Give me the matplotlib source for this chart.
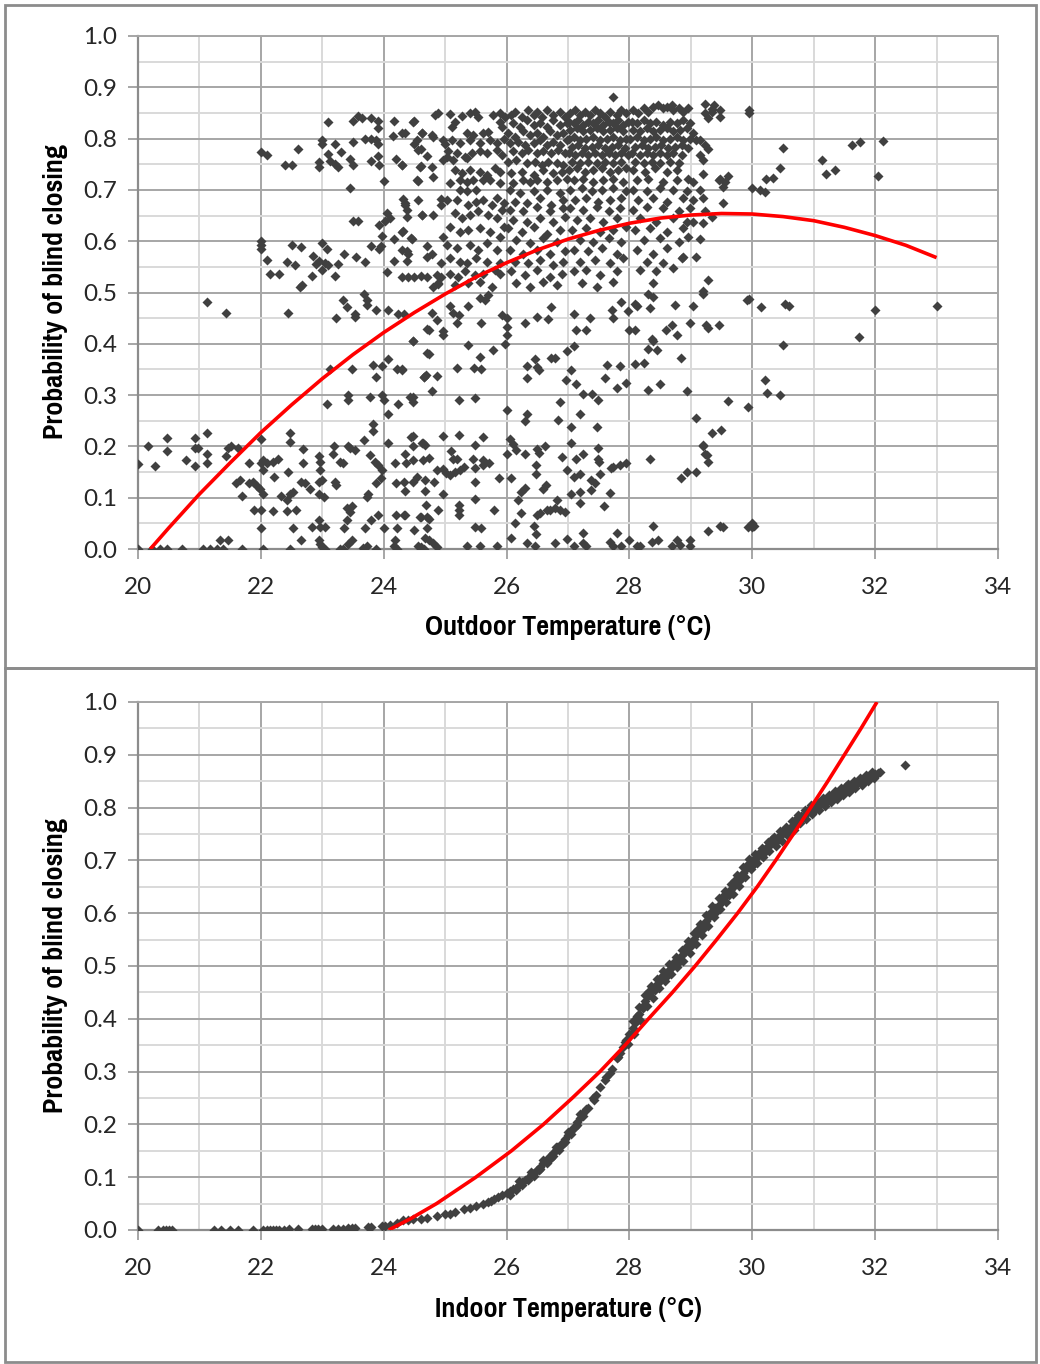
import numpy as np
import matplotlib
matplotlib.use("Agg")
import matplotlib.pyplot as plt
from matplotlib import font_manager as fm
from matplotlib.patches import Rectangle
from matplotlib.ticker import MultipleLocator, FormatStrFormatter

# ---------------- Outdoor temperature panel: observed points (temp, probability) ----------------
outdoor_bottom_row = [
    (20.0, 0.0), (20.22, 0.0), (20.36, 0.0), (20.47, 0.0), (20.71, 0.0), (21.05, 0.0), (21.17, 0.0),
    (21.28, 0.0), (21.33, 0.017), (21.39, 0.0), (21.47, 0.017), (21.69, 0.0), (22.04, 0.0), (22.47, 0.0),
    (22.65, 0.017), (22.94, 0.017), (22.97, 0.009), (23.0, 0.004), (23.04, 0.0), (23.29, 0.0), (23.34, 0.0),
    (23.42, 0.009), (23.48, 0.017), (23.67, 0.002), (23.72, 0.005), (23.88, 0.0), (24.16, 0.005),
    (24.18, 0.017), (24.21, 0.0), (24.55, 0.005), (24.65, 0.0),
    (22.0, 0.04), (22.53, 0.04), (22.84, 0.043), (22.97, 0.043), (23.04, 0.043), (22.94, 0.056),
    (23.4, 0.056), (23.35, 0.04), (23.7, 0.04), (23.8, 0.056), (24.0, 0.04), (24.21, 0.04), (24.7, 0.04),
    (23.9, 0.066), (24.2, 0.066), (24.33, 0.066), (24.6, 0.063), (24.7, 0.063),
    (24.5, 0.037), (24.67, 0.021), (24.74, 0.018), (24.8, 0.011), (24.86, 0.004), (24.6, 0.004),
    (25.35, 0.005), (25.49, 0.043), (25.58, 0.04), (25.57, 0.005), (25.84, 0.005), (26.08, 0.021),
    (26.33, 0.011), (26.46, 0.005), (26.44, 0.045), (26.48, 0.03), (26.79, 0.011), (26.98, 0.02),
    (27.09, 0.005), (27.24, 0.031), (27.25, 0.011), (27.29, 0.005), (27.68, 0.014), (27.74, 0.005),
    (27.87, 0.005), (27.79, 0.032), (28.0, 0.018), (28.12, 0.005), (28.18, 0.005), (28.39, 0.045),
    (28.36, 0.014), (28.47, 0.017), (28.69, 0.005), (28.77, 0.017), (28.82, 0.008), (28.99, 0.017),
    (28.99, 0.006), (29.28, 0.035), (29.47, 0.045), (29.53, 0.043), (29.93, 0.043), (30.0, 0.05),
    (30.0, 0.042), (30.03, 0.045),
]

outdoor_low_band = [
    (20.17, 0.2), (20.47, 0.216), (20.47, 0.192), (20.78, 0.173), (20.93, 0.216), (20.93, 0.196),
    (20.98, 0.196), (20.93, 0.162), (21.13, 0.227), (21.13, 0.185), (21.13, 0.167), (21.47, 0.196),
    (21.52, 0.2), (21.44, 0.182), (21.63, 0.196), (20.0, 0.165), (20.28, 0.162),
    (21.8, 0.168), (22.0, 0.214), (22.0, 0.168), (22.04, 0.173), (22.04, 0.154), (22.1, 0.168),
    (22.19, 0.17), (22.28, 0.175), (22.47, 0.227), (22.47, 0.208), (22.68, 0.194), (22.68, 0.167),
    (22.44, 0.151), (22.94, 0.182), (22.97, 0.17), (22.97, 0.154), (23.19, 0.2), (23.18, 0.185),
    (23.29, 0.17), (23.34, 0.167), (23.42, 0.2), (23.45, 0.196), (23.53, 0.193), (23.68, 0.212),
    (23.77, 0.183), (23.86, 0.17), (23.91, 0.164), (23.97, 0.154), (24.07, 0.206), (24.18, 0.168),
    (24.37, 0.168), (24.64, 0.206), (24.64, 0.173), (23.83, 0.244), (23.83, 0.23), (24.45, 0.219),
    (24.48, 0.2),
    (21.66, 0.134), (21.6, 0.128), (21.69, 0.103), (21.8, 0.128), (21.87, 0.131), (21.93, 0.123),
    (21.99, 0.116), (22.04, 0.108), (22.22, 0.141), (22.32, 0.103), (22.42, 0.095), (22.47, 0.108),
    (22.53, 0.112), (22.65, 0.131), (22.72, 0.128), (22.8, 0.116), (22.94, 0.13), (22.94, 0.108),
    (23.0, 0.134), (23.2, 0.131), (23.22, 0.125), (23.02, 0.102), (21.89, 0.076), (22.0, 0.076),
    (22.19, 0.074), (22.42, 0.074), (22.57, 0.076), (23.4, 0.08), (23.48, 0.083), (23.45, 0.073),
    (23.75, 0.108), (23.72, 0.102), (23.88, 0.128), (23.96, 0.138), (24.2, 0.128), (24.33, 0.131),
    (24.54, 0.141), (24.68, 0.134), (24.34, 0.114), (24.68, 0.114),
    (24.48, 0.22), (24.35, 0.186), (24.48, 0.173), (24.62, 0.206), (24.67, 0.203), (24.73, 0.178),
    (24.97, 0.22), (25.23, 0.222), (25.09, 0.192), (25.12, 0.175), (25.19, 0.175), (24.86, 0.154),
    (24.97, 0.155), (25.02, 0.148), (25.08, 0.144), (25.16, 0.15), (25.24, 0.154), (25.3, 0.16),
    (25.45, 0.175), (25.49, 0.203), (25.61, 0.219), (25.62, 0.173), (25.72, 0.167), (25.49, 0.157),
    (25.61, 0.163), (25.88, 0.139), (26.0, 0.186), (26.06, 0.214), (26.11, 0.205), (26.16, 0.193),
    (26.3, 0.186), (26.08, 0.138), (26.49, 0.194), (26.53, 0.188), (26.63, 0.2), (26.48, 0.164),
    (26.48, 0.146), (26.91, 0.18), (26.99, 0.154), (27.09, 0.14), (27.2, 0.146), (27.13, 0.175),
    (27.24, 0.186), (27.49, 0.197), (27.49, 0.175), (27.51, 0.17), (27.52, 0.146), (27.38, 0.135),
    (27.7, 0.157), (27.74, 0.159), (27.84, 0.163), (27.95, 0.168), (28.33, 0.175), (28.84, 0.138),
    (28.94, 0.151), (29.08, 0.151), (29.23, 0.186), (29.28, 0.17), (29.2, 0.2),
    (24.48, 0.131), (24.82, 0.131), (24.97, 0.108), (25.49, 0.131), (24.34, 0.066), (24.59, 0.063),
    (24.73, 0.058), (24.69, 0.086), (24.88, 0.076), (25.23, 0.086), (25.23, 0.076), (25.23, 0.066),
    (25.49, 0.097), (25.8, 0.076), (26.19, 0.095), (26.24, 0.112), (26.3, 0.118), (26.6, 0.116),
    (26.64, 0.125), (26.23, 0.07), (26.14, 0.051), (26.49, 0.066), (26.54, 0.071), (26.65, 0.076),
    (26.71, 0.076), (26.79, 0.079), (26.87, 0.076), (26.95, 0.073), (26.82, 0.095), (27.05, 0.108),
    (27.2, 0.112), (27.2, 0.089), (27.38, 0.115), (27.44, 0.128), (27.59, 0.084), (27.68, 0.11),
    (27.05, 0.238), (27.05, 0.206), (27.48, 0.238), (29.34, 0.227), (29.49, 0.232), (29.19, 0.203),
    (29.26, 0.183),
]

outdoor_mid_band = [
    (21.13, 0.481), (21.43, 0.46), (22.64, 0.511), (22.44, 0.46), (23.22, 0.45), (23.33, 0.485),
    (23.4, 0.472), (23.54, 0.459), (23.54, 0.453), (23.68, 0.498), (23.72, 0.485), (23.72, 0.476),
    (23.88, 0.466), (24.07, 0.466), (24.23, 0.459), (24.33, 0.459), (24.48, 0.405), (24.71, 0.428),
    (24.71, 0.383), (24.65, 0.336), (23.13, 0.35), (23.48, 0.35), (23.83, 0.358), (23.97, 0.357),
    (23.88, 0.336), (24.07, 0.37), (24.21, 0.35), (24.29, 0.35), (23.07, 0.283), (23.42, 0.3),
    (23.42, 0.29), (23.78, 0.297), (23.97, 0.3), (24.0, 0.29), (24.07, 0.264), (24.23, 0.283),
    (24.43, 0.296), (24.48, 0.287),
    (24.88, 0.517), (24.78, 0.461), (24.87, 0.446), (24.73, 0.427), (24.97, 0.424), (24.97, 0.418),
    (24.47, 0.405), (25.08, 0.474), (25.12, 0.46), (25.23, 0.456), (25.19, 0.44), (25.38, 0.474),
    (25.57, 0.49), (25.65, 0.485), (25.7, 0.495), (25.58, 0.441), (25.92, 0.456), (26.0, 0.45),
    (26.0, 0.433), (26.0, 0.417), (25.97, 0.4), (26.3, 0.44), (26.49, 0.453), (26.68, 0.448),
    (26.73, 0.472), (27.09, 0.459), (27.13, 0.427), (27.29, 0.427), (27.36, 0.45), (27.71, 0.466),
    (27.74, 0.45), (27.87, 0.482), (27.98, 0.463), (28.0, 0.426), (28.09, 0.426), (28.09, 0.478),
    (28.13, 0.474), (28.33, 0.469), (28.3, 0.498), (28.39, 0.492), (28.36, 0.41), (28.39, 0.405),
    (28.6, 0.426), (28.69, 0.437), (28.77, 0.417), (28.74, 0.476), (29.03, 0.474), (28.99, 0.44),
    (29.2, 0.498), (29.24, 0.437), (29.28, 0.43), (29.45, 0.437), (29.92, 0.485),
    (24.29, 0.348), (24.48, 0.297), (24.65, 0.336), (24.69, 0.34), (24.87, 0.337), (24.79, 0.308),
    (24.73, 0.381), (25.23, 0.29), (25.49, 0.294), (25.19, 0.352), (25.47, 0.352), (25.58, 0.35),
    (25.57, 0.374), (25.38, 0.398), (25.78, 0.387), (26.0, 0.27), (26.3, 0.25), (26.34, 0.263),
    (26.33, 0.333), (26.34, 0.357), (26.46, 0.37), (26.49, 0.354), (26.53, 0.348), (26.73, 0.372),
    (26.79, 0.373), (26.87, 0.287), (26.84, 0.251), (26.97, 0.33), (26.98, 0.385), (27.09, 0.396),
    (27.05, 0.349), (27.13, 0.322), (27.24, 0.303), (27.39, 0.303), (27.49, 0.29), (27.2, 0.264),
    (27.63, 0.358), (27.6, 0.333), (27.8, 0.313), (27.85, 0.357), (27.95, 0.324), (28.09, 0.36),
    (28.23, 0.363), (28.3, 0.31), (28.49, 0.322), (28.3, 0.39), (28.45, 0.387), (28.84, 0.373),
    (28.94, 0.308), (29.08, 0.255), (29.6, 0.289), (29.93, 0.276),
    (29.95, 0.487), (30.14, 0.471), (30.53, 0.477), (30.6, 0.474), (31.99, 0.465), (33.0, 0.474),
    (31.74, 0.414), (30.5, 0.398), (30.21, 0.33), (30.24, 0.305), (30.45, 0.3),
]

outdoor_upper_left = [
    (22.0, 0.6), (22.0, 0.593), (22.0, 0.585), (22.5, 0.593), (22.66, 0.588), (22.1, 0.564),
    (22.43, 0.56), (22.55, 0.553), (22.15, 0.537), (22.3, 0.537), (22.67, 0.514), (22.85, 0.572),
    (22.9, 0.555), (22.95, 0.562), (23.04, 0.557), (23.1, 0.553), (23.0, 0.596), (23.07, 0.585),
    (23.0, 0.543), (22.83, 0.533), (23.2, 0.533), (23.25, 0.555), (23.35, 0.575), (23.55, 0.57),
    (23.7, 0.56), (23.5, 0.64), (23.58, 0.64), (23.8, 0.59), (23.93, 0.585), (23.96, 0.59),
    (23.97, 0.61), (24.05, 0.655), (24.1, 0.645), (24.02, 0.64), (23.93, 0.632), (24.34, 0.675),
    (24.38, 0.66), (24.3, 0.617), (24.16, 0.605), (24.38, 0.648), (24.46, 0.605), (24.63, 0.651),
    (24.38, 0.58), (24.38, 0.562), (24.16, 0.561), (24.06, 0.54), (24.3, 0.53), (24.4, 0.53),
    (24.5, 0.53), (24.6, 0.532), (24.7, 0.53), (24.7, 0.57), (24.7, 0.59),
    (22.0, 0.774), (22.1, 0.768), (22.6, 0.78), (22.4, 0.748), (22.5, 0.748), (22.95, 0.755),
    (22.95, 0.745), (23.0, 0.797), (23.0, 0.79), (23.1, 0.832), (23.2, 0.79), (23.1, 0.77),
    (23.12, 0.757), (23.2, 0.75), (23.25, 0.744), (23.3, 0.773), (23.45, 0.76), (23.5, 0.794),
    (23.5, 0.748), (23.45, 0.704), (23.5, 0.835), (23.58, 0.845), (23.64, 0.84), (23.7, 0.8),
    (23.8, 0.8), (23.88, 0.797), (23.9, 0.79), (23.8, 0.84), (23.9, 0.835), (23.9, 0.82),
    (23.8, 0.757), (23.9, 0.767), (23.93, 0.748), (24.0, 0.718), (24.16, 0.835), (24.15, 0.806),
    (24.2, 0.76), (24.3, 0.81), (24.3, 0.748), (24.49, 0.834), (24.49, 0.789), (24.54, 0.797),
    (24.56, 0.717), (24.6, 0.78), (24.6, 0.746), (24.63, 0.81), (24.7, 0.766),
    (24.84, 0.846), (24.89, 0.849), (24.48, 0.832), (24.35, 0.81), (24.62, 0.81), (24.78, 0.807),
    (24.81, 0.804), (24.56, 0.778), (24.97, 0.797), (25.0, 0.79), (24.29, 0.748), (24.59, 0.745),
    (24.78, 0.744), (24.81, 0.726), (24.54, 0.72), (24.97, 0.758), (24.32, 0.683), (24.35, 0.67),
    (24.56, 0.68), (24.62, 0.651), (24.81, 0.651), (24.94, 0.683), (24.94, 0.67), (24.32, 0.619),
    (24.45, 0.606), (24.29, 0.583), (24.4, 0.576), (24.78, 0.576), (24.97, 0.609), (24.94, 0.557),
    (24.86, 0.534), (24.94, 0.53), (24.81, 0.511), (24.89, 0.518),
]

outdoor_upper_25 = [
    (25.08, 0.848), (25.27, 0.845), (25.4, 0.85), (25.49, 0.852), (25.54, 0.843), (25.78, 0.846),
    (25.89, 0.85), (25.97, 0.843), (25.11, 0.823), (25.16, 0.833), (25.89, 0.833), (25.92, 0.823),
    (25.35, 0.81), (25.46, 0.807), (25.62, 0.81), (25.7, 0.813),
    (25.11, 0.797), (25.24, 0.791), (25.4, 0.797), (25.57, 0.791), (25.73, 0.797), (25.84, 0.791),
    (25.95, 0.8), (25.05, 0.775), (25.19, 0.771), (25.32, 0.765), (25.43, 0.771), (25.57, 0.775),
    (25.68, 0.771), (25.84, 0.778), (25.92, 0.768), (25.03, 0.765), (25.13, 0.758), (25.35, 0.762),
    (25.16, 0.739), (25.27, 0.732), (25.4, 0.739), (25.57, 0.735), (25.68, 0.729), (25.81, 0.742),
    (25.89, 0.735), (25.08, 0.713), (25.24, 0.719), (25.35, 0.716), (25.46, 0.719), (25.62, 0.719),
    (25.73, 0.719), (25.89, 0.713), (25.24, 0.7), (25.35, 0.697), (25.51, 0.7),
    (25.03, 0.68), (25.19, 0.68), (25.38, 0.671), (25.51, 0.677), (25.62, 0.68), (25.76, 0.671),
    (25.84, 0.684), (25.95, 0.674), (25.16, 0.654), (25.27, 0.645), (25.4, 0.651), (25.54, 0.658),
    (25.7, 0.651), (25.84, 0.645), (25.92, 0.661), (25.08, 0.628), (25.24, 0.618), (25.38, 0.622),
    (25.57, 0.625), (25.73, 0.618), (25.89, 0.609), (25.95, 0.628), (25.03, 0.593), (25.19, 0.586),
    (25.4, 0.593), (25.54, 0.583), (25.68, 0.596), (25.84, 0.583), (25.08, 0.567), (25.24, 0.56),
    (25.35, 0.557), (25.51, 0.567), (25.68, 0.56), (25.89, 0.557), (25.08, 0.537), (25.21, 0.531),
    (25.32, 0.541), (25.49, 0.534), (25.62, 0.537), (25.81, 0.544), (25.89, 0.537), (25.16, 0.515),
    (25.38, 0.518), (25.57, 0.521), (25.76, 0.511),
]

outdoor_upper_26 = [
    (26.08, 0.846), (26.14, 0.852), (26.25, 0.843), (26.35, 0.855), (26.44, 0.846), (26.49, 0.852),
    (26.57, 0.843), (26.65, 0.855), (26.76, 0.846), (26.87, 0.852), (26.95, 0.843),
    (26.11, 0.83), (26.22, 0.823), (26.33, 0.836), (26.44, 0.826), (26.54, 0.83), (26.65, 0.823),
    (26.76, 0.836), (26.87, 0.826), (26.98, 0.83),
    (26.03, 0.81), (26.14, 0.804), (26.27, 0.814), (26.38, 0.807), (26.49, 0.81), (26.6, 0.804),
    (26.71, 0.814), (26.82, 0.807), (26.92, 0.81),
    (26.06, 0.791), (26.19, 0.794), (26.3, 0.787), (26.44, 0.791), (26.54, 0.797), (26.65, 0.787),
    (26.76, 0.794), (26.87, 0.787), (26.98, 0.797),
    (26.11, 0.775), (26.25, 0.771), (26.35, 0.778), (26.49, 0.771), (26.6, 0.775), (26.73, 0.771),
    (26.84, 0.778), (26.95, 0.771),
    (26.03, 0.755), (26.16, 0.758), (26.33, 0.752), (26.46, 0.755), (26.57, 0.749), (26.68, 0.755),
    (26.82, 0.752), (26.92, 0.749),
    (26.08, 0.732), (26.25, 0.735), (26.44, 0.729), (26.6, 0.739), (26.76, 0.732), (26.9, 0.735),
    (26.11, 0.713), (26.27, 0.719), (26.38, 0.716), (26.49, 0.719), (26.65, 0.716), (26.82, 0.719),
    (26.98, 0.722),
    (26.06, 0.7), (26.22, 0.693), (26.44, 0.697), (26.65, 0.7), (26.87, 0.693),
    (26.14, 0.677), (26.33, 0.674), (26.54, 0.684), (26.73, 0.671), (26.92, 0.68),
    (26.06, 0.661), (26.27, 0.658), (26.49, 0.667), (26.71, 0.658), (26.92, 0.664),
    (26.11, 0.641), (26.33, 0.638), (26.54, 0.645), (26.76, 0.638), (26.95, 0.648),
    (26.03, 0.625), (26.25, 0.618), (26.44, 0.628), (26.65, 0.615), (26.87, 0.622),
    (26.16, 0.602), (26.38, 0.596), (26.6, 0.606), (26.82, 0.599),
    (26.06, 0.583), (26.27, 0.576), (26.49, 0.583), (26.71, 0.576), (26.95, 0.58),
    (26.14, 0.56), (26.35, 0.557), (26.54, 0.563), (26.76, 0.554), (26.92, 0.56),
    (26.08, 0.541), (26.3, 0.534), (26.49, 0.544), (26.71, 0.531), (26.9, 0.537),
    (26.16, 0.518), (26.38, 0.511), (26.6, 0.521), (26.82, 0.515),
]

outdoor_upper_27 = [
    (27.03, 0.849), (27.11, 0.856), (27.2, 0.846), (27.28, 0.852), (27.36, 0.846), (27.44, 0.856),
    (27.52, 0.849), (27.6, 0.843), (27.68, 0.852), (27.79, 0.846), (27.87, 0.856), (27.95, 0.849),
    (27.74, 0.882),
    (27.01, 0.833), (27.09, 0.83), (27.17, 0.836), (27.25, 0.826), (27.33, 0.833), (27.41, 0.83),
    (27.49, 0.836), (27.57, 0.826), (27.66, 0.833), (27.74, 0.83), (27.82, 0.836), (27.9, 0.826),
    (27.98, 0.833),
    (27.03, 0.817), (27.14, 0.82), (27.25, 0.814), (27.36, 0.817), (27.47, 0.82), (27.57, 0.814),
    (27.68, 0.817), (27.79, 0.82), (27.9, 0.814),
    (27.01, 0.8), (27.09, 0.804), (27.2, 0.797), (27.3, 0.8), (27.41, 0.804), (27.52, 0.797),
    (27.63, 0.8), (27.74, 0.804), (27.85, 0.797), (27.95, 0.8),
    (27.06, 0.784), (27.17, 0.787), (27.28, 0.781), (27.39, 0.784), (27.49, 0.787), (27.6, 0.781),
    (27.71, 0.784), (27.82, 0.787), (27.93, 0.781),
    (27.01, 0.771), (27.11, 0.768), (27.22, 0.771), (27.33, 0.768), (27.44, 0.771), (27.55, 0.768),
    (27.66, 0.771), (27.76, 0.768), (27.87, 0.771), (27.98, 0.768),
    (27.06, 0.755), (27.2, 0.752), (27.33, 0.755), (27.47, 0.752), (27.6, 0.755), (27.74, 0.752),
    (27.87, 0.755),
    (27.01, 0.739), (27.14, 0.742), (27.28, 0.735), (27.41, 0.739), (27.55, 0.742), (27.68, 0.735),
    (27.82, 0.739), (27.95, 0.742),
    (27.09, 0.719), (27.25, 0.722), (27.41, 0.716), (27.57, 0.719), (27.74, 0.722), (27.9, 0.716),
    (27.03, 0.7), (27.22, 0.703), (27.39, 0.697), (27.55, 0.7), (27.74, 0.703), (27.95, 0.697),
    (27.11, 0.68), (27.3, 0.684), (27.49, 0.677), (27.68, 0.68), (27.87, 0.684),
    (27.03, 0.664), (27.25, 0.661), (27.47, 0.667), (27.66, 0.658), (27.85, 0.664),
    (27.14, 0.641), (27.36, 0.645), (27.57, 0.638), (27.79, 0.645),
    (27.06, 0.622), (27.3, 0.625), (27.52, 0.618), (27.74, 0.622), (27.95, 0.628),
    (27.2, 0.602), (27.41, 0.599), (27.66, 0.606), (27.87, 0.599),
    (27.09, 0.583), (27.33, 0.58), (27.55, 0.586), (27.79, 0.576),
    (27.2, 0.56), (27.44, 0.563), (27.68, 0.557), (27.9, 0.567),
    (27.09, 0.541), (27.3, 0.544), (27.52, 0.534), (27.79, 0.541),
    (27.22, 0.518), (27.47, 0.511), (27.74, 0.521),
]

outdoor_upper_28 = [
    (28.06, 0.856), (28.14, 0.849), (28.23, 0.859), (28.31, 0.852), (28.39, 0.862), (28.47, 0.865),
    (28.55, 0.859), (28.61, 0.862), (28.69, 0.865), (28.71, 0.856), (28.8, 0.859), (28.88, 0.852),
    (28.96, 0.859),
    (28.04, 0.833), (28.12, 0.83), (28.23, 0.836), (28.33, 0.83), (28.44, 0.833), (28.55, 0.826),
    (28.66, 0.833), (28.77, 0.83), (28.88, 0.836), (28.99, 0.83),
    (28.06, 0.817), (28.17, 0.814), (28.28, 0.82), (28.39, 0.814), (28.5, 0.817), (28.61, 0.82),
    (28.71, 0.814), (28.82, 0.817), (28.93, 0.82),
    (28.01, 0.8), (28.12, 0.804), (28.23, 0.797), (28.33, 0.8), (28.44, 0.804), (28.55, 0.797),
    (28.66, 0.8), (28.77, 0.804), (28.88, 0.797), (28.99, 0.8),
    (28.09, 0.784), (28.2, 0.787), (28.31, 0.781), (28.42, 0.784), (28.52, 0.787), (28.63, 0.781),
    (28.74, 0.784), (28.85, 0.787), (28.96, 0.781),
    (28.04, 0.771), (28.17, 0.768), (28.28, 0.771), (28.39, 0.768), (28.5, 0.771), (28.61, 0.768),
    (28.71, 0.771), (28.85, 0.768),
    (28.09, 0.755), (28.23, 0.752), (28.36, 0.755), (28.5, 0.752), (28.66, 0.755), (28.8, 0.752),
    (28.06, 0.739), (28.25, 0.735), (28.42, 0.742), (28.61, 0.735), (28.77, 0.739),
    (28.12, 0.719), (28.31, 0.722), (28.55, 0.716), (28.77, 0.719), (28.96, 0.722),
    (28.06, 0.7), (28.28, 0.697), (28.5, 0.703), (28.71, 0.7), (28.93, 0.697),
    (28.14, 0.68), (28.39, 0.684), (28.61, 0.677), (28.88, 0.684),
    (28.06, 0.661), (28.28, 0.667), (28.55, 0.664), (28.8, 0.658),
    (28.17, 0.645), (28.44, 0.638), (28.71, 0.645), (28.93, 0.638),
    (28.09, 0.622), (28.33, 0.625), (28.61, 0.618), (28.88, 0.625),
    (28.23, 0.602), (28.5, 0.606), (28.8, 0.599),
    (28.12, 0.583), (28.39, 0.576), (28.61, 0.586),
    (28.28, 0.56), (28.55, 0.557), (28.85, 0.567),
    (28.17, 0.544), (28.44, 0.541), (28.71, 0.547),
    (28.39, 0.518),
]

outdoor_upper_right = [
    (29.23, 0.867), (29.23, 0.85), (29.28, 0.84), (29.35, 0.852), (29.48, 0.843), (29.34, 0.858),
    (29.37, 0.865), (29.47, 0.856), (29.04, 0.81), (29.09, 0.797), (29.15, 0.797), (29.23, 0.787),
    (29.28, 0.78), (29.15, 0.768), (29.2, 0.758), (29.2, 0.731), (29.45, 0.72), (29.53, 0.706),
    (29.56, 0.716), (29.6, 0.728), (29.53, 0.674), (29.2, 0.685), (29.15, 0.7), (29.23, 0.658),
    (29.34, 0.648), (29.2, 0.636), (29.15, 0.604), (29.04, 0.716), (29.47, 0.722), (29.04, 0.68),
    (28.99, 0.664), (29.04, 0.638), (28.96, 0.609), (29.09, 0.57), (28.88, 0.57), (29.28, 0.525),
    (29.2, 0.502), (29.95, 0.856), (29.95, 0.85), (29.99, 0.704), (30.13, 0.7), (30.2, 0.696),
    (30.23, 0.722), (30.34, 0.724), (30.45, 0.742), (30.5, 0.782), (31.14, 0.758), (31.2, 0.731),
    (31.35, 0.739), (31.63, 0.787), (31.75, 0.793), (32.13, 0.796), (32.04, 0.728),
]

# Fitted quadratic trend for outdoor temperature
outdoor_fit_temp = [20.2, 20.5, 21.0, 21.5, 22.0, 22.5, 23.0, 23.5, 24.0, 24.5, 25.0, 25.5, 26.0,
                    26.5, 27.0, 27.5, 28.0, 28.5, 29.0, 29.5, 30.0, 30.5, 31.0, 31.5, 32.0, 32.5, 33.0]
outdoor_fit_prob = [0.0, 0.041, 0.107, 0.168, 0.227, 0.281, 0.332, 0.379, 0.422, 0.461, 0.497, 0.530,
                    0.558, 0.583, 0.604, 0.621, 0.635, 0.645, 0.651, 0.654, 0.653, 0.648, 0.640,
                    0.627, 0.611, 0.592, 0.568]

# ---------------- Indoor temperature panel ----------------
indoor_tail = [
    (20.0, 0.0), (20.33, 0.0), (20.4, 0.0), (20.45, 0.0), (20.5, 0.0), (20.55, 0.0), (21.23, 0.0),
    (21.35, 0.0), (21.5, 0.0), (21.63, 0.0), (21.88, 0.0), (22.04, 0.0), (22.1, 0.0), (22.15, 0.0),
    (22.2, 0.0), (22.25, 0.0), (22.3, 0.0), (22.37, 0.0), (22.46, 0.001), (22.61, 0.001), (22.83, 0.001),
    (22.88, 0.001), (22.93, 0.001), (22.99, 0.001), (23.18, 0.002), (23.26, 0.002), (23.34, 0.002),
    (23.42, 0.003), (23.48, 0.003), (23.53, 0.004), (23.75, 0.005), (23.8, 0.005), (23.97, 0.007),
    (24.02, 0.008),
]

indoor_band = [
    (24.1, 0.01), (24.21, 0.014), (24.32, 0.018), (24.4, 0.019), (24.48, 0.02), (24.6, 0.021),
    (24.7, 0.022), (24.86, 0.026), (25.0, 0.03), (25.08, 0.03), (25.16, 0.035), (25.3, 0.04),
    (25.4, 0.042), (25.51, 0.046), (25.62, 0.05), (25.7, 0.053), (25.75, 0.055), (25.8, 0.058),
    (25.86, 0.062), (25.92, 0.066), (26.0, 0.07), (26.05, 0.073), (26.1, 0.077), (26.15, 0.08),
    (26.2, 0.086), (26.25, 0.09), (26.3, 0.095), (26.35, 0.098), (26.4, 0.104), (26.45, 0.108),
    (26.5, 0.114), (26.55, 0.12), (26.6, 0.126), (26.65, 0.132), (26.7, 0.14), (26.75, 0.146),
    (26.8, 0.152), (26.85, 0.158), (26.9, 0.165), (26.95, 0.172), (27.0, 0.18), (27.05, 0.188),
    (27.1, 0.196), (27.15, 0.205), (27.2, 0.213), (27.25, 0.221), (27.3, 0.23), (27.4, 0.25),
    (27.45, 0.255), (27.52, 0.27), (27.6, 0.285), (27.68, 0.297), (27.72, 0.305), (27.8, 0.325),
    (27.85, 0.335), (27.9, 0.347), (27.95, 0.36), (28.0, 0.372), (28.05, 0.383), (28.1, 0.393),
    (28.15, 0.41), (28.2, 0.423), (28.25, 0.433), (28.3, 0.443), (28.35, 0.451), (28.4, 0.458),
    (28.45, 0.465), (28.5, 0.472), (28.55, 0.479), (28.6, 0.486), (28.65, 0.492), (28.7, 0.498),
    (28.75, 0.506), (28.8, 0.513), (28.85, 0.52), (28.9, 0.527), (28.95, 0.535), (29.0, 0.543),
    (29.05, 0.552), (29.1, 0.56), (29.15, 0.568), (29.2, 0.576), (29.25, 0.585), (29.3, 0.593),
    (29.35, 0.601), (29.4, 0.609), (29.45, 0.616), (29.5, 0.623), (29.55, 0.63), (29.6, 0.638),
    (29.65, 0.645), (29.7, 0.652), (29.75, 0.66), (29.8, 0.668), (29.85, 0.676), (29.9, 0.684),
    (29.95, 0.692), (30.0, 0.698), (30.05, 0.703), (30.1, 0.709), (30.15, 0.715), (30.2, 0.721),
    (30.25, 0.727), (30.3, 0.732), (30.35, 0.737), (30.4, 0.742), (30.45, 0.747), (30.5, 0.751),
    (30.55, 0.755), (30.6, 0.76), (30.65, 0.766), (30.7, 0.772), (30.75, 0.778), (30.8, 0.784),
    (30.85, 0.788), (30.9, 0.792), (30.95, 0.796), (31.0, 0.799), (31.05, 0.802), (31.1, 0.806),
    (31.15, 0.81), (31.2, 0.813), (31.25, 0.816), (31.3, 0.82), (31.35, 0.823), (31.4, 0.827),
    (31.45, 0.83), (31.5, 0.834), (31.55, 0.837), (31.6, 0.84), (31.65, 0.843), (31.7, 0.846),
    (31.75, 0.849), (31.8, 0.852), (31.85, 0.855), (31.9, 0.858), (31.95, 0.86), (32.0, 0.863),
    (32.05, 0.865), (32.08, 0.867), (32.49, 0.881),
]

indoor_band_upper = [
    (26.52, 0.113), (26.62, 0.131), (26.72, 0.137), (26.82, 0.158), (26.92, 0.163), (27.02, 0.186),
    (27.12, 0.196), (27.22, 0.22), (27.32, 0.232), (27.42, 0.247), (27.62, 0.29), (27.82, 0.328),
    (27.92, 0.356), (28.02, 0.372), (28.12, 0.405), (28.22, 0.42), (28.32, 0.452), (28.42, 0.455),
    (28.52, 0.48), (28.62, 0.483), (28.72, 0.507), (28.82, 0.51), (28.92, 0.536), (29.02, 0.54),
    (29.12, 0.57), (29.22, 0.572), (29.32, 0.603), (29.42, 0.605), (29.52, 0.632), (29.62, 0.634),
    (29.72, 0.662), (29.82, 0.665), (29.92, 0.692), (30.02, 0.694), (30.12, 0.716), (30.22, 0.718),
    (30.32, 0.74), (30.42, 0.738), (30.52, 0.758), (30.62, 0.757), (30.72, 0.78), (30.82, 0.78),
    (30.92, 0.798), (31.02, 0.796), (31.12, 0.812), (31.22, 0.81), (31.32, 0.826), (31.42, 0.824),
    (31.52, 0.84), (31.62, 0.838), (31.72, 0.851), (31.82, 0.849), (31.92, 0.862),
    (28.05, 0.395), (28.15, 0.422), (28.25, 0.445), (28.35, 0.462), (28.45, 0.476), (28.55, 0.49),
    (28.65, 0.503), (28.75, 0.517), (28.85, 0.531), (28.95, 0.547), (29.05, 0.563), (29.15, 0.58),
    (29.25, 0.597), (29.35, 0.613), (29.45, 0.628), (29.55, 0.642), (29.65, 0.656), (29.75, 0.672),
    (29.85, 0.688), (29.95, 0.702), (30.05, 0.713), (30.15, 0.724), (30.25, 0.735), (30.35, 0.745),
    (30.45, 0.755), (30.55, 0.763), (30.65, 0.774), (30.75, 0.786), (30.85, 0.796), (30.95, 0.804),
    (31.05, 0.81), (31.15, 0.818), (31.25, 0.824), (31.35, 0.831), (31.45, 0.838), (31.55, 0.845),
    (31.65, 0.851), (31.75, 0.857), (31.85, 0.862), (31.95, 0.867),
]

indoor_band_lower = [
    (26.05, 0.066), (26.15, 0.075), (26.25, 0.085), (26.35, 0.094), (26.45, 0.103), (26.55, 0.115),
    (26.65, 0.127), (26.75, 0.14), (26.85, 0.152), (26.95, 0.166), (27.05, 0.181), (27.15, 0.198),
    (27.25, 0.215), (26.2, 0.092), (26.4, 0.11), (26.6, 0.132), (26.8, 0.158), (27.0, 0.186),
    (27.2, 0.22),
    (27.98, 0.352), (28.08, 0.372), (28.18, 0.398), (28.28, 0.425), (28.38, 0.44), (28.48, 0.458),
    (28.58, 0.472), (28.68, 0.485), (28.78, 0.498), (28.88, 0.51), (28.98, 0.525), (29.08, 0.541),
    (29.18, 0.558), (29.28, 0.575), (29.38, 0.592), (29.48, 0.608), (29.58, 0.622), (29.68, 0.637),
    (29.78, 0.652), (29.88, 0.668), (29.98, 0.683), (30.08, 0.695), (30.18, 0.706), (30.28, 0.717),
    (30.38, 0.728), (30.48, 0.737), (30.58, 0.746), (30.68, 0.758), (30.78, 0.77), (30.88, 0.779),
    (30.98, 0.788), (31.08, 0.796), (31.18, 0.803), (31.28, 0.81), (31.38, 0.816), (31.48, 0.823),
    (31.58, 0.83), (31.68, 0.837), (31.78, 0.843), (31.88, 0.85), (31.98, 0.856),
]

# Fitted trend for indoor temperature
indoor_fit_temp = [24.08, 24.43, 24.86, 25.5, 26.08, 26.6, 27.07, 27.52, 27.93, 28.31, 28.7, 29.07,
                   29.42, 29.76, 30.08, 30.38, 30.67, 30.95, 31.23, 31.5, 31.77, 32.03]
indoor_fit_prob = [0.0, 0.021, 0.05, 0.1, 0.15, 0.2, 0.25, 0.3, 0.35, 0.4, 0.45, 0.5,
                   0.55, 0.6, 0.65, 0.7, 0.75, 0.8, 0.85, 0.9, 0.95, 1.0]

x_ticks = [20, 22, 24, 26, 28, 30, 32, 34]
y_ticks = [0.0, 0.1, 0.2, 0.3, 0.4, 0.5, 0.6, 0.7, 0.8, 0.9, 1.0]

# ---------------- Styling ----------------
W, H = 1040, 1364
TICK_FONT = ["Lato", "DejaVu Sans"]
POINT_COLOR = "#404040"
MAJOR_GRID = "#a6a6a6"
MINOR_GRID = "#d9d9d9"


def condensed_bold_font():
    """Pick a narrow bold face for the axis titles, falling back to Roboto bold."""
    files = [f.fname for f in fm.fontManager.ttflist]
    narrow = [p for p in files
              if any(k in p.lower() for k in ("narrow", "condensed", "compressed"))
              and "bold" in p.lower() and "italic" not in p.lower()
              and "oblique" not in p.lower()]
    if narrow:
        narrow.sort(key=lambda p: (0 if "narrow" in p.lower() else 1, len(p)))
        return fm.FontProperties(fname=narrow[0], size=22)
    return fm.FontProperties(family=["Roboto", "DejaVu Sans"], weight="bold", size=16)


fig = plt.figure(figsize=(W / 100, H / 100), dpi=100)


def px_rect(left, top, right, bottom):
    return [left / W, 1 - bottom / H, (right - left) / W, (bottom - top) / H]


# panel frames
for top, bottom in [(5, 668), (668, 1362)]:
    fig.patches.append(Rectangle((5 / W, 1 - bottom / H), (1036 - 5) / W, (bottom - top) / H,
                                 transform=fig.transFigure, fill=False,
                                 edgecolor="#8c8c8c", linewidth=2))


def style_axes(ax):
    ax.set_xlim(20, 34)
    ax.set_ylim(0, 1)
    ax.set_xticks(x_ticks)
    ax.set_yticks(y_ticks)
    ax.xaxis.set_minor_locator(MultipleLocator(1))
    ax.yaxis.set_minor_locator(MultipleLocator(0.05))
    ax.yaxis.set_major_formatter(FormatStrFormatter("%.1f"))
    ax.set_axisbelow(True)
    ax.grid(which="major", color=MAJOR_GRID, linewidth=1.4)
    ax.grid(which="minor", color=MINOR_GRID, linewidth=1.4)
    ax.tick_params(which="minor", length=0)
    ax.tick_params(which="major", length=7, width=1.4, color=MAJOR_GRID,
                   labelcolor="#262626", labelsize=17.5)
    ax.tick_params(axis="y", pad=8)
    ax.tick_params(axis="x", pad=13)
    for lab in ax.get_xticklabels() + ax.get_yticklabels():
        lab.set_fontfamily(TICK_FONT)
    for side in ["left", "bottom"]:
        ax.spines[side].set_color("#8c8c8c")
        ax.spines[side].set_linewidth(1.6)
    for side in ["top", "right"]:
        ax.spines[side].set_color(MAJOR_GRID)
        ax.spines[side].set_linewidth(1.4)


def draw_points(ax, groups):
    pts = np.array([p for g in groups for p in g])
    ax.scatter(pts[:, 0], pts[:, 1], marker="D", s=26, color=POINT_COLOR,
               linewidths=0, zorder=3)


# Outdoor panel
ax1 = fig.add_axes(px_rect(138, 36, 998, 549))
style_axes(ax1)
draw_points(ax1, [outdoor_bottom_row, outdoor_low_band, outdoor_mid_band, outdoor_upper_left,
                  outdoor_upper_25, outdoor_upper_26, outdoor_upper_27, outdoor_upper_28,
                  outdoor_upper_right])
ax1.plot(outdoor_fit_temp, outdoor_fit_prob, color="#ff0000", linewidth=2.6, zorder=4,
         solid_capstyle="butt")

# Indoor panel
ax2 = fig.add_axes(px_rect(138, 702, 998, 1230))
style_axes(ax2)
draw_points(ax2, [indoor_tail, indoor_band, indoor_band_upper, indoor_band_lower])
ax2.plot(indoor_fit_temp, indoor_fit_prob, color="#ff0000", linewidth=2.6, zorder=4,
         solid_capstyle="butt")

label_font = condensed_bold_font()
label_kw = dict(fontproperties=label_font, color="black", ha="center", va="center")
fig.text(568 / W, 1 - 628 / H, "Outdoor Temperature (°C)", **label_kw)
fig.text(55 / W, 1 - 292 / H, "Probability of blind closing", rotation=90, **label_kw)
fig.text(568 / W, 1 - 1310 / H, "Indoor Temperature (°C)", **label_kw)
fig.text(55 / W, 1 - 966 / H, "Probability of blind closing", rotation=90, **label_kw)

fig.savefig("out.png", dpi=100)
